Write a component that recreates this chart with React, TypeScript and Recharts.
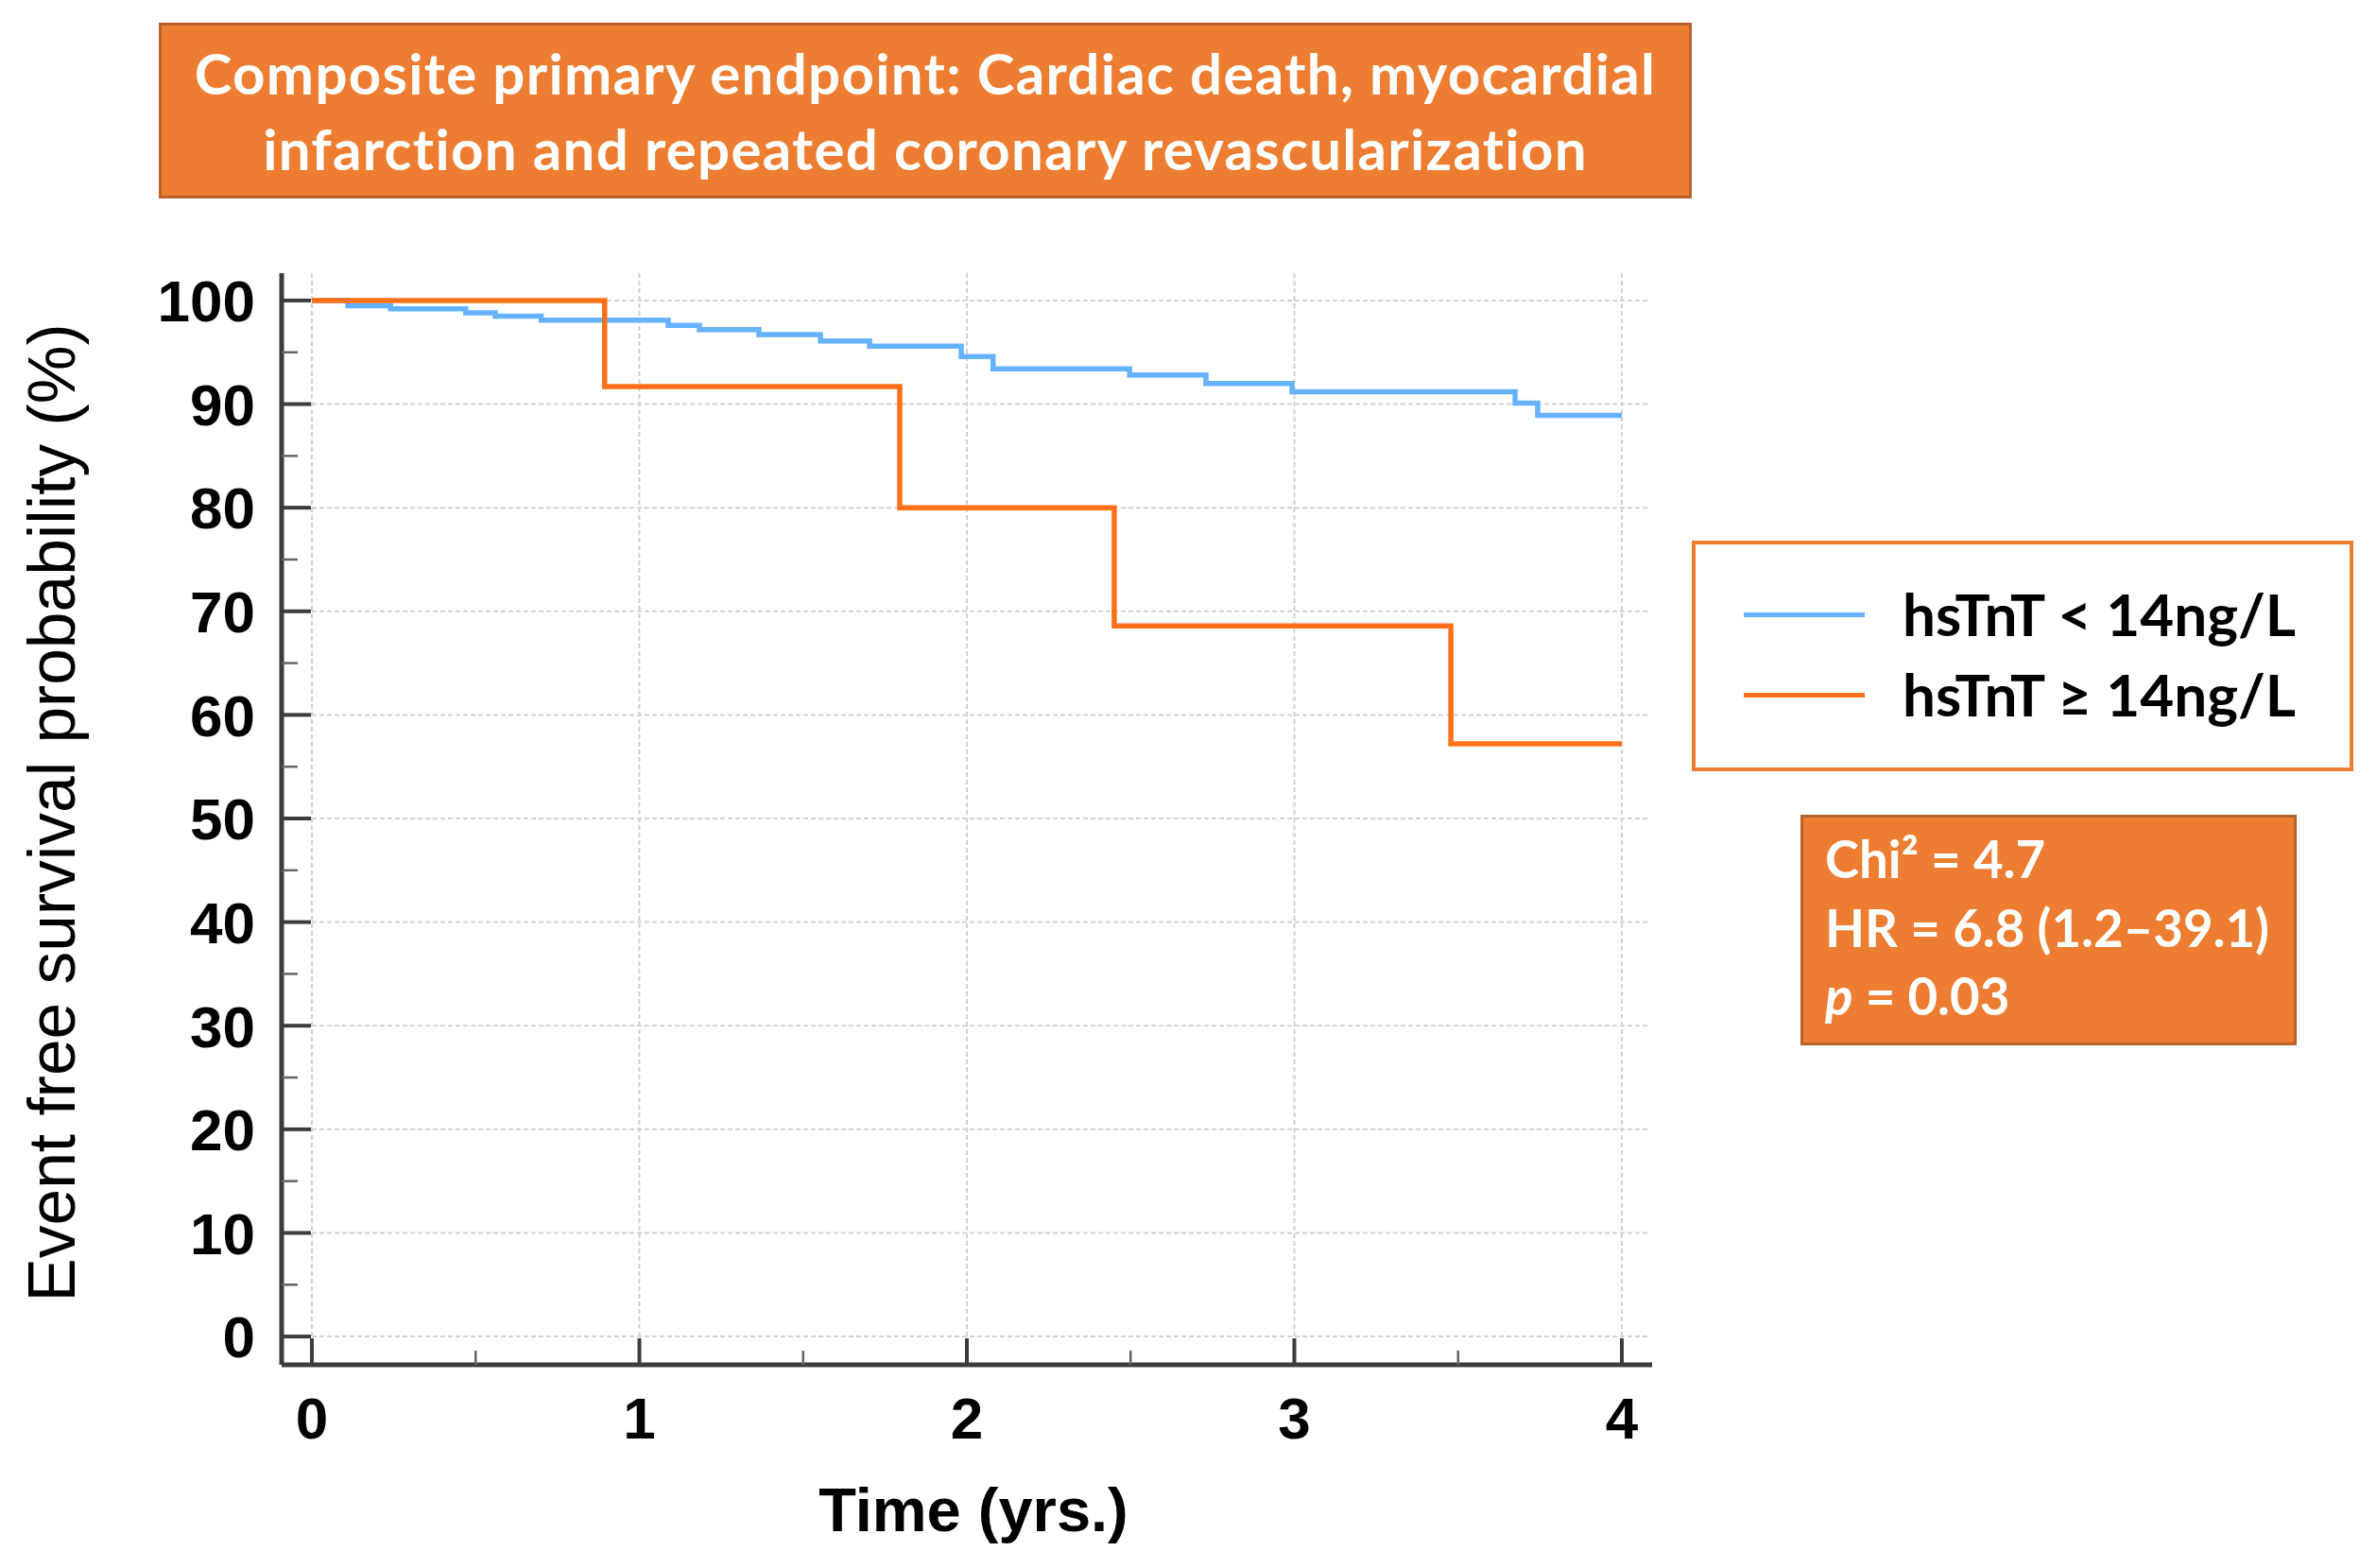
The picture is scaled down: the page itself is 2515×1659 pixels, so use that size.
import React from 'react';
import { LineChart, Line, XAxis, YAxis, ReferenceLine, Legend, Label } from 'recharts';

// hsTnT < 14 ng/L (Kaplan-Meier steps)
const lowTimes = [0, 0.11, 0.24, 0.47, 0.56, 0.7, 1.088, 1.183, 1.365, 1.553, 1.703, 1.983, 2.08, 2.497, 2.73, 2.993, 3.674, 3.743, 4.0];
const lowSurvival = [100, 99.5, 99.2, 98.8, 98.5, 98.1, 97.6, 97.2, 96.7, 96.1, 95.6, 94.6, 93.4, 92.8, 92.0, 91.2, 90.1, 88.9, 88.9];
// hsTnT >= 14 ng/L
const highTimes = [0, 0.894, 1.795, 2.45, 3.478, 4.0];
const highSurvival = [100, 91.7, 80.0, 68.6, 57.2, 57.2];

const xTicks = [0, 0.5, 1, 1.5, 2, 2.5, 3, 3.5, 4];
const yTicks = [0, 5, 10, 15, 20, 25, 30, 35, 40, 45, 50, 55, 60, 65, 70, 75, 80, 85, 90, 95, 100];
const xGrid = [0, 1, 2, 3, 4];
const yGrid = [0, 10, 20, 30, 40, 50, 60, 70, 80, 90, 100];

const seriesNames = ['hsTnT < 14ng/L', 'hsTnT \u2265 14ng/L'];
const titleLines = ['Composite primary endpoint: Cardiac death, myocardial', 'infarction and repeated coronary revascularization'];

const lowData = lowTimes.map((t, i) => ({ t, s: lowSurvival[i] }));
const highData = highTimes.map((t, i) => ({ t, s: highSurvival[i] }));

const BLUE = '#66B2FF';
const ORANGE = '#FF7019';
const AXIS = '#3c3c3c';
const GRID = '#d2d2d2';
const BOX = '#ED7D31';

const YTick = (props: any) => {
  const { x, y, payload } = props;
  const v = payload.value;
  const major = v % 10 === 0;
  return (
    <g>
      <line x1={x} x2={x + (major ? 31 : 17)} y1={y} y2={y} stroke={major ? AXIS : '#666'} strokeWidth={major ? 4 : 2.5} />
      {major && (
        <text x={x - 28} y={y} dy="0.36em" textAnchor="end" fill="#000" fontFamily="'Liberation Sans', Arial, sans-serif" fontWeight="bold" fontSize={62}>
          {v}
        </text>
      )}
    </g>
  );
};

const XTick = (props: any) => {
  const { x, y, payload } = props;
  const v = payload.value;
  const major = Number.isInteger(v);
  return (
    <g>
      <line x1={x} x2={x} y1={y} y2={y - (major ? 28 : 15)} stroke={major ? AXIS : '#666'} strokeWidth={major ? 4 : 2.5} />
      {major && (
        <text x={x} y={y + 56} dy="0.36em" textAnchor="middle" fill="#000" fontFamily="'Liberation Sans', Arial, sans-serif" fontWeight="bold" fontSize={62}>
          {v}
        </text>
      )}
    </g>
  );
};

const LegendBox = (props: any) => {
  const payload = props.payload || [];
  return (
    <div
      style={{
        boxSizing: 'border-box',
        width: 700,
        height: 244,
        background: '#fff',
        border: `4px solid ${BOX}`,
        position: 'relative',
        fontFamily: 'Lato, sans-serif',
        fontWeight: 700,
      }}
    >
      {payload.map((p: any, i: number) => (
        <div key={i} style={{ position: 'absolute', left: 0, top: i === 0 ? 78 - 4 : 163 - 4, width: '100%' }}>
          <div style={{ position: 'absolute', left: 51, top: -2.5, width: 128, height: 5, background: p.color }} />
          <div style={{ position: 'absolute', left: 219, top: -37, fontSize: 62, lineHeight: '72px', color: '#000', whiteSpace: 'nowrap' }}>
            {p.value}
          </div>
        </div>
      ))}
    </div>
  );
};

export default function App() {
  return (
    <div style={{ position: 'absolute', left: 0, top: 0, width: 2515, height: 1659, background: '#fff' }}>
      <div
        style={{
          position: 'absolute',
          left: 168,
          top: 24,
          width: 1622,
          height: 186,
          boxSizing: 'border-box',
          background: BOX,
          border: '3px solid #B8612A',
          color: '#fff',
          fontFamily: 'Lato, sans-serif',
          fontWeight: 700,
          fontSize: 60,
          letterSpacing: 1.3,
          lineHeight: '80px',
          textAlign: 'center',
          display: 'flex',
          flexDirection: 'column',
          justifyContent: 'center',
          zIndex: 2,
        }}
      >
        {titleLines.map((l, i) => (
          <div key={i} style={{ whiteSpace: 'nowrap' }}>{l}</div>
        ))}
      </div>

      <LineChart width={2515} height={1659} margin={{ top: 289, right: 767, bottom: 155, left: 238 }}>
        {yGrid.map((v) => (
          <ReferenceLine key={'hy' + v} segment={[{ x: 0, y: v }, { x: 4.085, y: v }]} stroke={GRID} strokeWidth={2} strokeDasharray="5 3" ifOverflow="visible" />
        ))}
        {xGrid.map((v) => (
          <ReferenceLine key={'vx' + v} segment={[{ x: v, y: 0 }, { x: v, y: 102.64 }]} stroke={GRID} strokeWidth={2} strokeDasharray="5 3" ifOverflow="visible" />
        ))}
        <XAxis
          dataKey="t"
          type="number"
          domain={[-0.0924, 4.0924]}
          ticks={xTicks}
          allowDataOverflow
          height={60}
          tickSize={0}
          tickMargin={0}
          tickLine={false}
          tick={<XTick />}
          axisLine={{ stroke: AXIS, strokeWidth: 5 }}
          interval={0}
        >
          <Label
            content={() => (
              <text x={1030} y={1620} textAnchor="middle" fill="#000" fontFamily="'Liberation Sans', Arial, sans-serif" fontWeight="bold" fontSize={65}>
                Time (yrs.)
              </text>
            )}
          />
        </XAxis>
        <YAxis
          type="number"
          domain={[-2.73, 102.64]}
          ticks={yTicks}
          allowDataOverflow
          width={60}
          tickSize={0}
          tickMargin={0}
          tickLine={false}
          tick={<YTick />}
          axisLine={{ stroke: AXIS, strokeWidth: 5 }}
          interval={0}
        >
          <Label
            content={() => (
              <text x={79} y={860} transform="rotate(-90, 79, 860)" textAnchor="middle" fill="#000" fontFamily="'Liberation Sans', Arial, sans-serif" fontSize={69.5}>
                Event free survival probability (%)
              </text>
            )}
          />
        </YAxis>
        <Line data={lowData} dataKey="s" name={seriesNames[0]} type="stepAfter" stroke={BLUE} strokeWidth={5.5} dot={false} activeDot={false} isAnimationActive={false} />
        <Line data={highData} dataKey="s" name={seriesNames[1]} type="stepAfter" stroke={ORANGE} strokeWidth={5.5} dot={false} activeDot={false} isAnimationActive={false} />
        <Legend
          layout="vertical"
          align="center"
          verticalAlign="middle"
          content={<LegendBox />}
          wrapperStyle={{ left: 1790, top: 572, width: 700, height: 244, right: 'auto', bottom: 'auto' }}
        />
      </LineChart>

      <div
        style={{
          position: 'absolute',
          left: 1905,
          top: 862,
          width: 525,
          height: 244,
          boxSizing: 'border-box',
          background: BOX,
          border: '3px solid #B8612A',
          color: '#fff',
          fontFamily: 'Lato, sans-serif',
          fontWeight: 700,
          fontSize: 54.5,
          lineHeight: '72.5px',
          paddingLeft: 23,
          paddingTop: 7,
          whiteSpace: 'nowrap',
        }}
      >
        <div>Chi² = 4.7</div>
        <div>HR = 6.8 (1.2–39.1)</div>
        <div><i>p</i> = 0.03</div>
      </div>
    </div>
  );
}
